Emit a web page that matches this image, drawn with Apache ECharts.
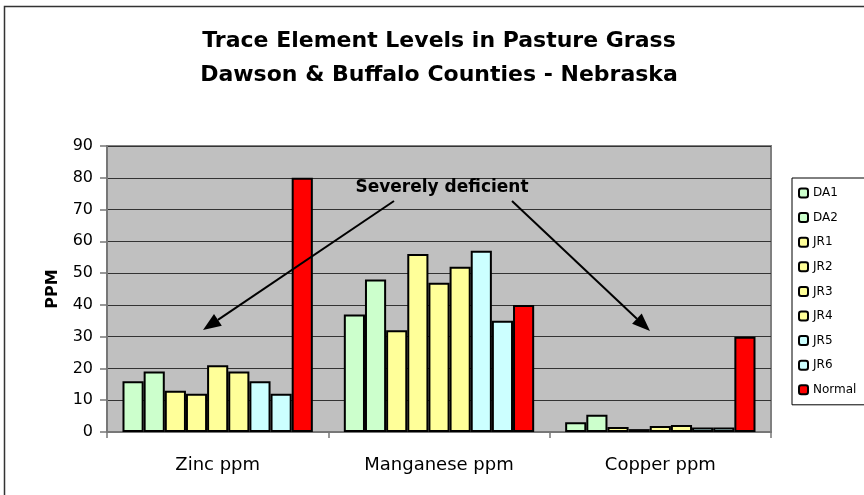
<!DOCTYPE html>
<html>
<head>
<meta charset="utf-8">
<script src="https://cdn.jsdelivr.net/npm/echarts@6/dist/echarts.min.js"></script>
<style>
  html, body { margin: 0; padding: 0; background: #fff; }
  #chart { width: 864px; height: 495px; }
</style>
</head>
<body>
<div id="chart"></div>
<script>
// values
var categories = ['Zinc ppm', 'Manganese ppm', 'Copper ppm'];
var seriesNames = ['DA1', 'DA2', 'JR1', 'JR2', 'JR3', 'JR4', 'JR5', 'JR6', 'Normal'];
var zinc = [16, 19, 13, 12, 21, 19, 16, 12, 80];
var manganese = [37, 48, 32, 56, 47, 52, 57, 35, 40];
var copper = [3.1, 5.4, 1.6, 0.9, 1.9, 2.2, 1.4, 1.4, 30];

var barColors = ['#CCFFCC', '#CCFFCC', '#FFFF99', '#FFFF99', '#FFFF99', '#FFFF99', '#CCFFFF', '#CCFFFF', '#FF0000'];
var font = 'DejaVu Sans';

var chart = echarts.init(document.getElementById('chart'), null, { renderer: 'canvas' });

var series = seriesNames.map(function (name, i) {
  return {
    name: name,
    type: 'bar',
    barGap: '0%',
    barCategoryGap: '14%',
    data: [zinc[i], manganese[i], copper[i]],
    itemStyle: { color: barColors[i], borderColor: '#000', borderWidth: 2 },
    emphasis: { disabled: true }
  };
});

// arrow from the label down to the bars (annotation only)
function arrow(x1, y1, x2, y2) {
  var ang = Math.atan2(y2 - y1, x2 - x1);
  var len = 18, half = 7;
  var bx = x2 - len * Math.cos(ang), by = y2 - len * Math.sin(ang);
  var px = -Math.sin(ang) * half, py = Math.cos(ang) * half;
  return [
    { type: 'line', shape: { x1: x1, y1: y1, x2: bx, y2: by }, style: { stroke: '#000', lineWidth: 2 }, z: 100 },
    { type: 'polygon', shape: { points: [[x2, y2], [bx + px, by + py], [bx - px, by - py]] }, style: { fill: '#000' }, z: 100 }
  ];
}

var graphics = [
  { type: 'rect', shape: { x: 4.5, y: 6.5, width: 900, height: 600 }, style: { fill: null, stroke: '#333', lineWidth: 1.5 }, z: 100 },
  { type: 'text', x: 439, y: 41, style: { text: 'Trace Element Levels in Pasture Grass', font: 'bold 22px "' + font + '"', fill: '#000', textAlign: 'center', textVerticalAlign: 'middle' }, z: 100 },
  { type: 'text', x: 439, y: 75, style: { text: 'Dawson & Buffalo Counties - Nebraska', font: 'bold 22px "' + font + '"', fill: '#000', textAlign: 'center', textVerticalAlign: 'middle' }, z: 100 },
  { type: 'text', x: 442, y: 188, style: { text: 'Severely deficient', font: 'bold 17px "' + font + '"', fill: '#000', textAlign: 'center', textVerticalAlign: 'middle' }, z: 100 }
].concat(arrow(394, 201, 203, 330), arrow(512, 201, 650, 331));

chart.setOption({
  animation: false,
  backgroundColor: '#fff',
  textStyle: { fontFamily: font, color: '#000' },
  grid: { left: 107, right: 93, top: 146, bottom: 63, show: true, backgroundColor: '#C0C0C0', borderColor: '#808080', borderWidth: 2 },
  legend: {
    data: seriesNames,
    orient: 'vertical',
    left: 792,
    top: 178,
    padding: [8, 20, 8, 6],
    itemWidth: 9,
    itemHeight: 9,
    itemGap: 10.6,
    borderColor: '#000',
    borderWidth: 1,
    backgroundColor: '#fff',
    itemStyle: { borderColor: '#000', borderWidth: 2 },
    textStyle: { fontFamily: font, fontSize: 12, color: '#000', lineHeight: 14 }
  },
  xAxis: {
    type: 'category',
    data: categories,
    axisLine: { lineStyle: { color: '#777', width: 2 } },
    axisTick: { show: true, length: 6, interval: 0, lineStyle: { color: '#777', width: 1.5 } },
    axisLabel: { fontFamily: font, fontSize: 18, color: '#000', margin: 24 },
    splitLine: { show: false }
  },
  yAxis: {
    type: 'value',
    min: 0,
    max: 90,
    interval: 10,
    name: 'PPM',
    nameLocation: 'middle',
    nameGap: 46,
    nameTextStyle: { fontFamily: font, fontSize: 16, fontWeight: 'bold', color: '#000' },
    axisLine: { show: true, lineStyle: { color: '#777', width: 2 } },
    axisTick: { show: true, length: 7, lineStyle: { color: '#777', width: 1.5 } },
    axisLabel: { fontFamily: font, fontSize: 16, color: '#000', margin: 14 },
    splitLine: { show: true, lineStyle: { color: '#333', width: 1 } }
  },
  series: series,
  graphic: graphics
});
</script>
</body>
</html>
